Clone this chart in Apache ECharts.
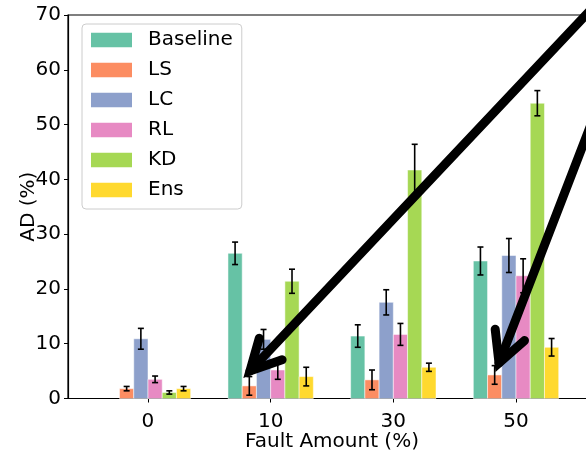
<!DOCTYPE html>
<html lang="en">

<head>
    <meta charset="UTF-8">
    <title>AD vs Fault Amount</title>
    <script src="https://cdn.jsdelivr.net/npm/echarts@6/dist/echarts.min.js"></script>
    <style>
        html,
        body {
            margin: 0;
            padding: 0;
            overflow: hidden;
            background: #fff;
        }

        #chart {
            width: 600px;
            height: 452px;
        }
    </style>
</head>

<body>
    <div id="chart"></div>
    <script>
        // fault amount categories (x positions 0..3)
        const categories = ['0', '10', '30', '50'];
        const seriesNames = ['Baseline', 'LS', 'LC', 'RL', 'KD', 'Ens'];
        const colors = ['#66c2a5', '#fc8d62', '#8da0cb', '#e78ac3', '#a6d854', '#ffd92f'];

        // AD (%) mean values and error (+/-)
        const baseline = [0, 26.5, 11.4, 25.1];
        const baselineErr = [0, 2.05, 2.05, 2.55];
        const ls = [1.8, 2.3, 3.4, 4.3];
        const lsErr = [0.4, 1.7, 1.8, 1.7];
        const lc = [10.9, 10.8, 17.55, 26.1];
        const lcErr = [1.9, 1.8, 2.3, 3.1];
        const rl = [3.5, 5.2, 11.7, 22.4];
        const rlErr = [0.6, 1.7, 2.0, 3.1];
        const kd = [1.1, 21.4, 41.7, 53.9];
        const kdErr = [0.3, 2.2, 4.7, 2.3];
        const ens = [1.8, 4.0, 5.7, 9.35];
        const ensErr = [0.4, 1.7, 0.75, 1.6];

        const values = [baseline, ls, lc, rl, kd, ens];
        const errors = [baselineErr, lsErr, lcErr, rlErr, kdErr, ensErr];

        const barW = 0.116; // in x units
        const fontFamily = 'DejaVu Sans';

        function makeSeries(s) {
            const data = categories.map((c, i) => [i, values[s][i], errors[s][i]]);
            return {
                name: seriesNames[s],
                type: 'custom',
                itemStyle: { color: colors[s] },
                data: data,
                renderItem: function (params, api) {
                    const xc = api.value(0) + (s - 2.5) * barW;
                    const v = api.value(1);
                    const e = api.value(2);
                    const p0 = api.coord([xc - barW / 2, 0]);
                    const p1 = api.coord([xc + barW / 2, v]);
                    const children = [];
                    if (v > 0) {
                        children.push({
                            type: 'rect',
                            shape: { x: p0[0], y: p1[1], width: p1[0] - p0[0], height: p0[1] - p1[1] },
                            style: { fill: colors[s], stroke: 'rgba(255,255,255,0.5)', lineWidth: 1 }
                        });
                    }
                    if (e > 0) {
                        const top = api.coord([xc, v + e]);
                        const bot = api.coord([xc, v - e]);
                        const lineStyle = { stroke: '#000', lineWidth: 1.6 };
                        children.push({ type: 'line', shape: { x1: top[0], y1: top[1], x2: bot[0], y2: bot[1] }, style: lineStyle });
                        children.push({ type: 'line', shape: { x1: top[0] - 3, y1: top[1], x2: top[0] + 3, y2: top[1] }, style: lineStyle });
                        children.push({ type: 'line', shape: { x1: bot[0] - 3, y1: bot[1], x2: bot[0] + 3, y2: bot[1] }, style: lineStyle });
                    }
                    return { type: 'group', children: children };
                }
            };
        }

        // big black annotation arrows (pixel positions: tail, tip)
        function arrow(tail, tip) {
            const ang = Math.atan2(tail[1] - tip[1], tail[0] - tip[0]);
            const len = 34, spread = 0.48;
            const w1 = [tip[0] + len * Math.cos(ang - spread), tip[1] + len * Math.sin(ang - spread)];
            const w2 = [tip[0] + len * Math.cos(ang + spread), tip[1] + len * Math.sin(ang + spread)];
            const style = { stroke: '#000', lineWidth: 9, lineCap: 'round', lineJoin: 'miter', fill: null };
            return [
                { type: 'polyline', z: 100, shape: { points: [tail, tip] }, style: style },
                { type: 'polyline', z: 100, shape: { points: [w1, tip, w2] }, style: style }
            ];
        }

        const chart = echarts.init(document.getElementById('chart'));
        chart.setOption({
            animation: false,
            textStyle: { fontFamily: fontFamily },
            grid: {
                left: 68, top: 15, width: 528, height: 383.5,
                outerBoundsMode: 'none',
                show: true, borderColor: '#000', borderWidth: 1.2, backgroundColor: 'transparent'
            },
            legend: {
                orient: 'vertical',
                left: 82, top: 24,
                padding: [6, 9, 9, 9],
                itemWidth: 41, itemHeight: 14.5, itemGap: 10,
                icon: 'rect',
                borderColor: '#ccc', borderWidth: 1, borderRadius: 4,
                backgroundColor: 'rgba(255,255,255,0.8)',
                textStyle: { fontFamily: fontFamily, fontSize: 20, color: '#000', lineHeight: 20, padding: [0, 0, 0, 11] },
                data: seriesNames
            },
            xAxis: {
                type: 'value',
                min: -0.652, max: 3.652,
                name: 'Fault Amount (%)',
                nameLocation: 'middle',
                nameGap: 33,
                nameMoveOverlap: false,
                nameTextStyle: { fontFamily: fontFamily, fontSize: 20, color: '#000' },
                splitLine: { show: false },
                axisLine: { show: true, onZero: false, lineStyle: { color: '#000', width: 1.2 } },
                axisTick: { show: true, length: 4, customValues: [0, 1, 2, 3], lineStyle: { color: '#000' } },
                axisLabel: {
                    customValues: [0, 1, 2, 3],
                    formatter: (v) => categories[Math.round(v)],
                    fontFamily: fontFamily, fontSize: 20, color: '#000', margin: 13
                }
            },
            yAxis: {
                type: 'value',
                min: 0, max: 70, interval: 10,
                name: 'AD (%)',
                nameLocation: 'middle',
                nameGap: 29,
                nameMoveOverlap: false,
                nameTextStyle: { fontFamily: fontFamily, fontSize: 20, color: '#000' },
                splitLine: { show: false },
                axisLine: { show: true, onZero: false, lineStyle: { color: '#000', width: 1.2 } },
                axisTick: { show: true, length: 4, lineStyle: { color: '#000' } },
                axisLabel: { fontFamily: fontFamily, fontSize: 20, color: '#000', margin: 7 }
            },
            series: seriesNames.map((n, s) => makeSeries(s)),
            graphic: [].concat(
                arrow([600, 0], [250, 371]),
                arrow([600, 101], [499, 363])
            )
        });
    </script>
</body>

</html>
